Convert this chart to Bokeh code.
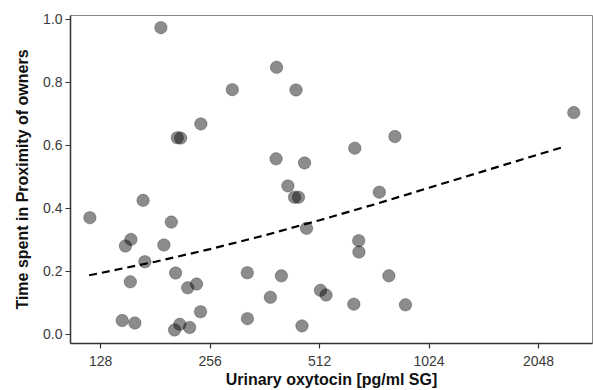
from bokeh.plotting import figure
from bokeh.models import Range1d, FixedTicker, ColumnDataSource, PrintfTickFormatter
from bokeh.embed import file_html
from bokeh.resources import INLINE

# Urinary oxytocin [pg/ml SG] (log2 axis) and time spent in proximity of owners
oxytocin = [119.6, 187.5, 390, 294.7, 441, 241.5, 208, 212.5, 388.8, 465.6,
            419, 437, 448, 640, 825, 747.5, 2560, 471.5, 656, 657,
            794, 515, 533.5, 636, 882, 458, 167.5, 200.3, 149.8, 155.1,
            191.1, 169.4, 205.8, 154.5, 222.2, 235, 241, 146.8, 159, 204.5,
            211.3, 224.9, 324, 402, 375, 324.3]
proximity = [0.370, 0.974, 0.848, 0.777, 0.776, 0.668, 0.624, 0.623, 0.557, 0.544,
             0.471, 0.435, 0.435, 0.591, 0.628, 0.451, 0.704, 0.336, 0.297, 0.261,
             0.185, 0.139, 0.124, 0.095, 0.093, 0.026, 0.425, 0.356, 0.280, 0.301,
             0.283, 0.230, 0.194, 0.166, 0.147, 0.159, 0.071, 0.043, 0.035, 0.013,
             0.031, 0.021, 0.195, 0.185, 0.117, 0.049]

# fitted curve (dashed)
fit_x = [119, 128, 181, 256, 362, 512, 724, 1024, 1448, 2048, 2404]
fit_y = [0.187, 0.194, 0.230, 0.270, 0.314, 0.362, 0.412, 0.465, 0.518, 0.571, 0.595]

x_ticks = [128, 256, 512, 1024, 2048]
x_tick_labels = ["128", "256", "512", "1024", "2048"]
y_ticks = [0.0, 0.2, 0.4, 0.6, 0.8, 1.0]

p = figure(width=593, height=390, x_axis_type="log",
           x_range=Range1d(105.8, 2882), y_range=Range1d(-0.030, 1.0127),
           output_backend="svg", toolbar_location=None,
           min_border_left=70, min_border_right=1, min_border_top=15, min_border_bottom=47)

p.xgrid.visible = False
p.ygrid.visible = False
p.outline_line_color = "#8a8a8a"
p.outline_line_width = 1
p.background_fill_color = "white"
p.border_fill_color = "white"

src = ColumnDataSource(dict(x=oxytocin, y=proximity))
p.scatter("x", "y", source=src, size=12.5, fill_color="black", fill_alpha=0.45,
          line_color="black", line_alpha=0.25, line_width=1)

p.line(fit_x, fit_y, line_color="black", line_width=2.2, line_dash="8 5")

p.xaxis.ticker = FixedTicker(ticks=x_ticks, minor_ticks=[])
p.xaxis.major_label_overrides = {t: l for t, l in zip(x_ticks, x_tick_labels)}
p.yaxis.ticker = FixedTicker(ticks=y_ticks, minor_ticks=[])
p.yaxis.formatter = PrintfTickFormatter(format="%.1f")

for ax in (p.xaxis[0], p.yaxis[0]):
    ax.axis_line_color = "#333333"
    ax.axis_line_width = 1.5
    ax.major_tick_line_color = "#333333"
    ax.major_tick_line_width = 1.2
    ax.major_tick_out = 5
    ax.major_tick_in = 0
    ax.minor_tick_line_color = None
    ax.major_label_text_font = "Liberation Sans"
    ax.major_label_text_font_size = "14px"
    ax.major_label_text_color = "#3a3a3a"
    ax.axis_label_text_font = "Liberation Sans"
    ax.axis_label_text_font_size = "16px"
    ax.axis_label_text_font_style = "bold"
    ax.axis_label_text_color = "#111111"

p.xaxis.axis_label = "Urinary oxytocin [pg/ml SG]"
p.yaxis.axis_label = "Time spent in Proximity of owners"
p.xaxis.major_label_standoff = 7
p.xaxis.axis_label_standoff = 2
p.yaxis.major_label_standoff = 3
p.yaxis.axis_label_standoff = 9

open("out.html", "w").write(file_html(p, INLINE))
